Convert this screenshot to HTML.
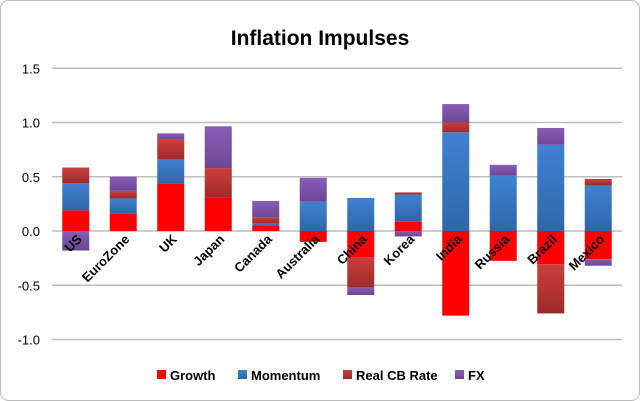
<!DOCTYPE html>
<html><head><meta charset="utf-8"><style>
body{margin:0;background:#fff}
svg{display:block;font-family:"Liberation Sans",sans-serif}
</style></head><body>
<svg id="chart" width="640" height="401" viewBox="0 0 640 401">
<defs>
<linearGradient id="gB" x1="0" y1="0" x2="0" y2="1"><stop offset="0" stop-color="#3f82d0"/><stop offset="1" stop-color="#2f66aa"/></linearGradient>
<linearGradient id="gC" x1="0" y1="0" x2="0" y2="1"><stop offset="0" stop-color="#cc3e3a"/><stop offset="1" stop-color="#9e2a2a"/></linearGradient>
<linearGradient id="gF" x1="0" y1="0" x2="0" y2="1"><stop offset="0" stop-color="#8a5cb6"/><stop offset="1" stop-color="#6c4696"/></linearGradient>
</defs>
<rect x="0.5" y="0.5" width="639" height="400" rx="8" fill="#fff" stroke="#bbb"/>
<text x="320" y="45" text-anchor="middle" font-size="21" font-weight="bold" fill="#000">Inflation Impulses</text>
<g id="grid"></g><g id="bars"></g><g id="labels"></g><g id="legend"></g>
</svg>
<script>
const categories=["US","EuroZone","UK","Japan","Canada","Australia","China","Korea","India","Russia","Brazil","Mexico"];
const growth=[0.19,0.16,0.44,0.305,0.05,-0.10,-0.24,0.086,-0.78,-0.275,-0.305,-0.26];
const momentum=[0.25,0.14,0.22,0,0.02,0.27,0.305,0.25,0.91,0.51,0.795,0.42];
const realCB=[0.145,0.07,0.18,0.275,0.057,0,-0.28,0.02,0.09,0,-0.455,0.06];
const fx=[-0.18,0.13,0.06,0.385,0.15,0.22,-0.07,-0.05,0.17,0.10,0.155,-0.06];
const ticks=[1.5,1.0,0.5,0.0,-0.5,-1.0];
const tickLabels=["1.5","1.0","0.5","0.0","-0.5","-1.0"];
const seriesNames=["Growth","Momentum","Real CB Rate","FX"];
const NS="http://www.w3.org/2000/svg";
const x0=52,x1=622,bw=(x1-x0)/categories.length,barW=27;
const y=v=>231-v*108.5;
const xc=i=>x0+bw*(i+0.5);
function mk(t,a,p){const e=document.createElementNS(NS,t);for(const k in a)e.setAttribute(k,a[k]);p.appendChild(e);return e;}
const grid=document.getElementById('grid');
ticks.forEach((t,i)=>{
  const l=mk('line',{x1:x0,x2:x1,y1:y(t),y2:y(t),stroke:'#bdbdbd','stroke-width':1.5},grid);
  
  
  const tx=mk('text',{x:40,y:y(t)+5,'text-anchor':'end','font-size':13,fill:'#000'},grid);
  tx.textContent=tickLabels[i];
  
  
});
const series=[growth,momentum,realCB,fx];
const fills=['#ff0000','url(#gB)','url(#gC)','url(#gF)'];
const keys=['growth','momentum','real-cb','fx'];
const bars=document.getElementById('bars');
categories.forEach((c,i)=>{
  let pos=0,neg=0;
  series.forEach((s,k)=>{
    const v=s[i]; if(!v)return;
    let a,b;
    if(v>0){a=pos;b=pos+v;pos=b;}else{a=neg;b=neg+v;neg=b;}
    const top=y(Math.max(a,b)),bot=y(Math.min(a,b));
    const r=mk('rect',{x:xc(i)-barW/2,y:top,width:barW,height:bot-top,fill:fills[k]},bars);
    
    
  });
});
const labels=document.getElementById('labels');
categories.forEach((c,i)=>{
  const t=mk('text',{x:0,y:0,'text-anchor':'end','font-size':13,'font-weight':'bold',fill:'#000',transform:`translate(${xc(i)+7},${240}) rotate(-45)`},labels);
  t.textContent=c;
  
  
});
const legend=document.getElementById('legend');
const lx=[157,238,343,455];
seriesNames.forEach((n,k)=>{
  const r=mk('rect',{x:lx[k],y:370,width:9,height:9,fill:fills[k]},legend);
  
  
  const t=mk('text',{x:lx[k]+13,y:380,'font-size':13,'font-weight':'bold',fill:'#000'},legend);
  t.textContent=n;
  
  
});
</script>
</body></html>
